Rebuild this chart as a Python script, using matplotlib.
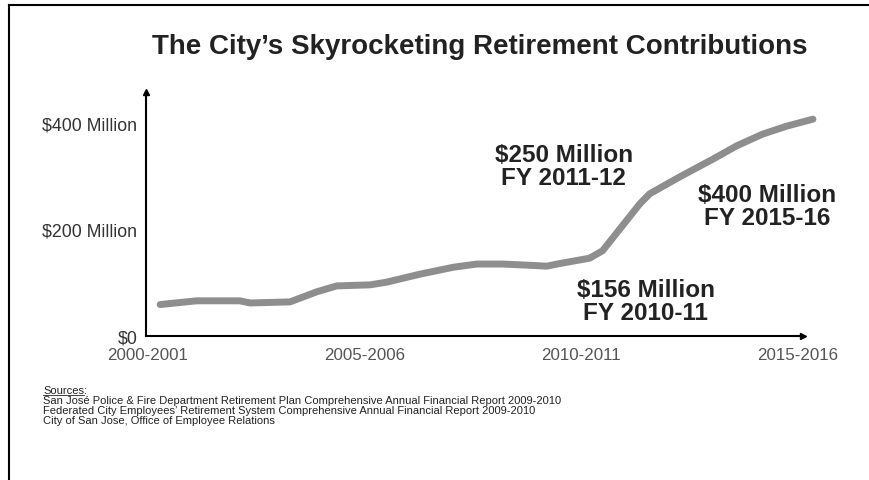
import numpy as np
import matplotlib.pyplot as plt
from matplotlib.lines import Line2D

plt.rcParams['font.family'] = ['Liberation Sans', 'DejaVu Sans']

# fiscal year offset from 2000-01, contributions in $ millions
yearIdx = [0.28, 1.12, 2.12, 2.36, 3.28, 3.90, 4.36, 5.13, 5.51, 6.28, 7.05, 7.59,
           8.20, 8.75, 9.21, 9.51, 10.2, 10.5, 11.36, 11.59, 12.29, 13.05, 13.6,
           14.2, 14.76, 15.36]
contrib = [59, 66, 66, 62, 64, 83, 94, 96, 101, 116, 129, 135,
           135, 133, 131, 136, 146, 160, 248, 267, 299, 332, 357,
           379, 394, 407]

xTicks = [0, 5, 10, 15]
xLabels = ['2000-2001', '2005-2006', '2010-2011', '2015-2016']
yTicks = [0, 200, 400]
yLabels = ['$0', '$200 Million', '$400 Million']

notes = ['$250 Million\nFY 2011-12', '$400 Million\nFY 2015-16', '$156 Million\nFY 2010-11']
noteX = [9.6, 14.3, 11.5]
noteY = [319, 244, 66]

fig = plt.figure(figsize=(8.7, 4.81), dpi=100)
ax = fig.add_axes([0.1675, 0.2994, 0.7555, 0.5073])

ax.plot(yearIdx, contrib, color='#8e8e8e', lw=5, solid_capstyle='round', clip_on=False)

ax.set_xlim(-0.053, 15.13)
ax.set_ylim(0, 458)
ax.set_xticks(xTicks)
ax.set_xticklabels(xLabels, fontsize=12.2, color='#555555')
ax.set_yticks(yTicks)
ax.set_yticklabels(yLabels, fontsize=12.8, color='#333333')
ax.tick_params(length=0)
ax.tick_params(axis='x', pad=8)
ax.tick_params(axis='y', pad=6)

for s in ['top', 'right']:
    ax.spines[s].set_visible(False)
for s in ['left', 'bottom']:
    ax.spines[s].set_linewidth(1.5)

# arrow heads on the axes
ax.plot(1, 0, '>k', ms=4, transform=ax.transAxes, clip_on=False)
ax.plot(0, 1, '^k', ms=4, transform=ax.transAxes, clip_on=False)

for t, x, y in zip(notes, noteX, noteY):
    ax.text(x, y, t, ha='center', va='center', fontsize=17.5, fontweight='bold',
            color='#222222', linespacing=1.0)

fig.text(0.551, 0.902, "The City\u2019s Skyrocketing Retirement Contributions",
         ha='center', va='center', fontsize=20, fontweight='bold', color='#222222')

src = ['San Jos\u00e9 Police & Fire Department Retirement Plan Comprehensive Annual Financial Report 2009-2010',
       'Federated City Employees\u2019 Retirement System Comprehensive Annual Financial Report 2009-2010',
       'City of San Jose, Office of Employee Relations']
sy = 391
fig.text(43 / 870, 1 - sy / 481, 'Sources:', ha='left', va='center', fontsize=8.0, color='#222222')
fig.add_artist(Line2D([43 / 870, 84 / 870], [1 - 396 / 481] * 2, color='#222222', lw=0.6))
for k, line in enumerate(src):
    fig.text(43 / 870, 1 - (sy + 10 * (k + 1)) / 481, line, ha='left', va='center',
             fontsize=8.0, color='#222222')

# scanned border lines
fig.add_artist(Line2D([9 / 870, 9 / 870], [0, 1 - 6 / 481], color='k', lw=1.5))
fig.add_artist(Line2D([9 / 870, 1], [1 - 6 / 481] * 2, color='k', lw=1.5))

fig.savefig('out.png', dpi=100)
